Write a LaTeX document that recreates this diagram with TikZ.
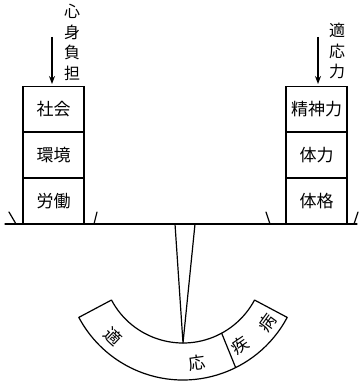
\documentclass[tikz,border=0pt]{standalone}
\usepackage{fontspec}
\setmainfont{Noto Sans CJK JP}
\usetikzlibrary{calc,arrows.meta}
\tikzset{
  ln/.style={line width=1.2pt, line cap=round, line join=round},
  cell/.style={draw, line width=1.2pt, minimum width=61pt, minimum height=46pt, inner sep=0pt, font=\fontsize{17}{17}\selectfont},
  vtxt/.style={font=\fontsize{16}{20.5}\selectfont, align=center, inner sep=0pt},
  arctxt/.style={font=\fontsize{17}{17}\selectfont, inner sep=0pt},
  arr/.style={line width=1.4pt, -{Stealth[length=8pt,width=6pt]}}
}
\begin{document}
\begin{tikzpicture}[x=1pt,y=-1pt]
\useasboundingbox (0,0) rectangle (361,382);
% left stack
\node[cell] (l1) at (53.5,109.5) {社会};
\node[cell] (l2) at (53.5,155) {環境};
\node[cell] (l3) at (53.5,201) {労働};
% right stack
\node[cell] (r1) at (316.5,109.5) {精神力};
\node[cell] (r2) at (316.5,155) {体力};
\node[cell] (r3) at (316.5,201) {体格};
% labels
\node[vtxt] (lt) at (72,42.5) {心\\身\\負\\担};
\node[vtxt] (rt) at (337,51) {適\\応\\力};
\coordinate (la0) at (52,37); \coordinate (la1) at (52,84);
\coordinate (ra0) at (318,37); \coordinate (ra1) at (318,84);
\draw[arr] (la0) -- (la1);
\draw[arr] (ra0) -- (ra1);
% beam
\coordinate (bl) at (5,224); \coordinate (br) at (357,224);
\draw[ln] (bl) -- (br);
\draw[ln] (9,212) -- (16,224);
\draw[ln] (97,212) -- (94,224);
\draw[ln] (266,212) -- (270,224);
\draw[ln] (358,212) -- (354,224);
% pointer
\coordinate (p1) at (175,224); \coordinate (p2) at (195,224); \coordinate (tip) at (183,343);
\draw[ln] (p1) -- (tip) -- (p2);
% scale arc
\coordinate (C) at (183,262);
\draw[ln] ($(C)+(152:81)$) arc[start angle=152,end angle=28,radius=81]
  -- ($(C)+(28:118)$) arc[start angle=28,end angle=152,radius=118] -- cycle;
\draw[ln] ($(C)+(61.5:81)$) -- ($(C)+(63.5:118)$);
\node[arctxt, rotate=-43] (a1) at (113,337) {適};
\node[arctxt, rotate=8] (a2) at (197,363) {応};
\node[arctxt, rotate=34] (a3) at (240,345) {疾};
\node[arctxt, rotate=54] (a4) at (267,323) {病};
\end{tikzpicture}
\end{document}
